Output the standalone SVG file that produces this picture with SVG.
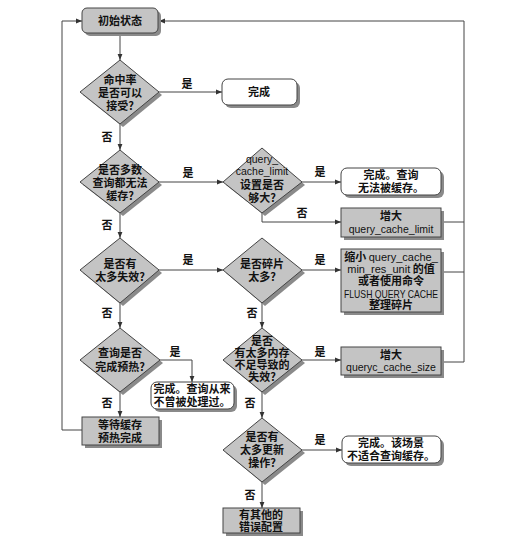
<svg xmlns="http://www.w3.org/2000/svg" width="532" height="550" viewBox="0 0 532 550">
<defs>
<marker id="ah" viewBox="0 0 10 10" refX="10" refY="5" markerWidth="6" markerHeight="6" orient="auto" markerUnits="userSpaceOnUse"><path d="M0,1 L10,5 L0,9 z" fill="#333"/></marker>
</defs>
<style>
.sh{fill:#8a8a8a}
.g{fill:#c4c4c4;stroke:#444;stroke-width:1}
.w{fill:#fff;stroke:#444;stroke-width:1}
.t{font-family:"Noto Sans CJK SC","Liberation Sans",sans-serif;font-size:11px;fill:#111;text-anchor:middle;font-weight:bold}
.e{font-family:"Liberation Sans","Noto Sans CJK SC",sans-serif;font-size:10.5px;fill:#111;text-anchor:middle}
.l{font-family:"Noto Sans CJK SC",sans-serif;font-size:11px;fill:#111;text-anchor:middle;font-weight:bold}
.c{fill:none;stroke:#444;stroke-width:1}
</style>
<rect width="532" height="550" fill="#fff"/>
<g id="connectors">
<path class="c" d="M120,33 V60" marker-end="url(#ah)"/>
<path class="c" d="M120,124 V150" marker-end="url(#ah)"/>
<path class="c" d="M159,92 H222" marker-end="url(#ah)"/>
<path class="c" d="M159,182 H223" marker-end="url(#ah)"/>
<path class="c" d="M302,182 H341" marker-end="url(#ah)"/>
<path class="c" d="M262,213 V222 H341" marker-end="url(#ah)"/>
<path class="c" d="M120,213 V238" marker-end="url(#ah)"/>
<path class="c" d="M159,270 H223" marker-end="url(#ah)"/>
<path class="c" d="M302,270 H341" marker-end="url(#ah)"/>
<path class="c" d="M120,303 V328" marker-end="url(#ah)"/>
<path class="c" d="M262,303 V328" marker-end="url(#ah)"/>
<path class="c" d="M160,360 H192 V382" marker-end="url(#ah)"/>
<path class="c" d="M120,392 V417" marker-end="url(#ah)"/>
<path class="c" d="M82,430 H62 V21 H82" marker-end="url(#ah)"/>
<path class="c" d="M302,360 H341" marker-end="url(#ah)"/>
<path class="c" d="M262,392 V418" marker-end="url(#ah)"/>
<path class="c" d="M302,450 H342" marker-end="url(#ah)"/>
<path class="c" d="M262,482 V508" marker-end="url(#ah)"/>
<path class="c" d="M441,222 H464"/>
<path class="c" d="M441,272 H464"/>
<path class="c" d="M441,362 H464 V21 H159" marker-end="url(#ah)"/>
<text class="l" x="187" y="88">是</text>
<text class="l" x="107" y="141">否</text>
<text class="l" x="188" y="177">是</text>
<text class="l" x="320" y="176">是</text>
<text class="l" x="302" y="217">否</text>
<text class="l" x="107" y="229">否</text>
<text class="l" x="188" y="264">是</text>
<text class="l" x="320" y="264">是</text>
<text class="l" x="107" y="317">否</text>
<text class="l" x="252" y="317">否</text>
<text class="l" x="175" y="356">是</text>
<text class="l" x="107" y="407">否</text>
<text class="l" x="320" y="356">是</text>
<text class="l" x="250" y="407">否</text>
<text class="l" x="320" y="444">是</text>
<text class="l" x="250" y="499">否</text>
</g>
<g id="start">
<rect class="sh" x="85" y="11" width="76" height="25" rx="5"/>
<rect class="g" x="82" y="8" width="76" height="25" rx="5"/>
<text class="t" x="120" y="25">初始状态</text>
</g>
<g id="d1">
<polygon class="sh" points="123,63 162,95 123,127 83,95"/>
<polygon class="g" points="120,60 159,92 120,124 80,92"/>
<text class="t" x="120" y="84">命中率</text>
<text class="t" x="120" y="97">是否可以</text>
<text class="t" x="120" y="110">接受?</text>
</g>
<g id="done1">
<rect class="sh" x="225" y="82" width="75" height="26" rx="6"/>
<rect class="w" x="222" y="79" width="75" height="26" rx="6"/>
<text class="t" x="259" y="96">完成</text>
</g>
<g id="d2">
<polygon class="sh" points="123,153 162,185 123,216 83,185"/>
<polygon class="g" points="120,150 159,182 120,213 80,182"/>
<text class="t" x="120" y="174">是否多数</text>
<text class="t" x="120" y="187">查询都无法</text>
<text class="t" x="120" y="200">缓存?</text>
</g>
<g id="d3">
<polygon class="sh" points="265,151 305,185 265,216 226,185"/>
<polygon class="g" points="262,148 302,182 262,213 223,182"/>
<text class="e" x="262" y="163">query_</text>
<text class="e" x="262" y="175">cache_limit</text>
<text class="t" x="262" y="189">设置是否</text>
<text class="t" x="262" y="202">够大?</text>
</g>
<g id="done2">
<rect class="sh" x="344" y="171" width="100" height="27" rx="6"/>
<rect class="w" x="341" y="168" width="100" height="27" rx="6"/>
<text class="t" x="391" y="179">完成。查询</text>
<text class="t" x="391" y="192">无法被缓存。</text>
</g>
<g id="inc-limit">
<rect class="sh" x="344" y="211" width="100" height="29"/>
<rect class="g" x="341" y="208" width="100" height="29"/>
<text class="t" x="391" y="220">增大</text>
<text class="e" x="391" y="233">query_cache_limit</text>
</g>
<g id="d5">
<polygon class="sh" points="123,241 162,273 123,306 83,273"/>
<polygon class="g" points="120,238 159,270 120,303 80,270"/>
<text class="t" x="120" y="268">是否有</text>
<text class="t" x="120" y="281">太多失效?</text>
</g>
<g id="d4">
<polygon class="sh" points="265,241 305,273 265,306 226,273"/>
<polygon class="g" points="262,238 302,270 262,303 223,270"/>
<text class="t" x="262" y="268">是否碎片</text>
<text class="t" x="262" y="281">太多?</text>
</g>
<g id="shrink">
<rect class="sh" x="344" y="252" width="100" height="63"/>
<rect class="g" x="341" y="249" width="100" height="63"/>
<text class="t" x="391" y="261">缩小 <tspan font-family="Liberation Sans" font-weight="normal">query_cache_</tspan></text>
<text class="t" x="391" y="273"><tspan font-family="Liberation Sans" font-weight="normal">min_res_unit</tspan> 的值</text>
<text class="t" x="391" y="285">或者使用命令</text>
<text class="e" x="391" y="298" textLength="94" lengthAdjust="spacingAndGlyphs">FLUSH QUERY CACHE</text>
<text class="t" x="391" y="309">整理碎片</text>
</g>
<g id="d6">
<polygon class="sh" points="123,331 163,363 123,395 83,363"/>
<polygon class="g" points="120,328 160,360 120,392 80,360"/>
<text class="t" x="120" y="357">查询是否</text>
<text class="t" x="120" y="371">完成预热?</text>
</g>
<g id="done3">
<rect class="sh" x="154" y="385" width="83" height="27" rx="6"/>
<rect class="w" x="151" y="382" width="83" height="27" rx="6"/>
<text class="t" x="192" y="393">完成。查询从来</text>
<text class="t" x="192" y="406">不曾被处理过。</text>
</g>
<g id="wait">
<rect class="sh" x="85" y="420" width="77" height="28"/>
<rect class="g" x="82" y="417" width="77" height="28"/>
<text class="t" x="120" y="429">等待缓存</text>
<text class="t" x="120" y="442">预热完成</text>
</g>
<g id="d7">
<polygon class="sh" points="265,331 305,363 265,395 226,363"/>
<polygon class="g" points="262,328 302,360 262,392 223,360"/>
<text class="t" x="262" y="345">是否</text>
<text class="t" x="262" y="357">有太多内存</text>
<text class="t" x="262" y="369">不足导致的</text>
<text class="t" x="262" y="381">失效?</text>
</g>
<g id="inc-size">
<rect class="sh" x="344" y="350" width="100" height="28"/>
<rect class="g" x="341" y="347" width="100" height="28"/>
<text class="t" x="391" y="359">增大</text>
<text class="e" x="391" y="371">queryc_cache_size</text>
</g>
<g id="d8">
<polygon class="sh" points="265,421 305,453 265,485 226,453"/>
<polygon class="g" points="262,418 302,450 262,482 223,450"/>
<text class="t" x="262" y="441">是否有</text>
<text class="t" x="262" y="454">太多更新</text>
<text class="t" x="262" y="467">操作?</text>
</g>
<g id="done4">
<rect class="sh" x="345" y="439" width="99" height="27" rx="6"/>
<rect class="w" x="342" y="436" width="99" height="27" rx="6"/>
<text class="t" x="391" y="447">完成。该场景</text>
<text class="t" x="391" y="460">不适合查询缓存。</text>
</g>
<g id="other">
<rect class="sh" x="226" y="511" width="77" height="25"/>
<rect class="g" x="223" y="508" width="77" height="25"/>
<text class="t" x="261" y="519">有其他的</text>
<text class="t" x="261" y="531">错误配置</text>
</g>
</svg>
